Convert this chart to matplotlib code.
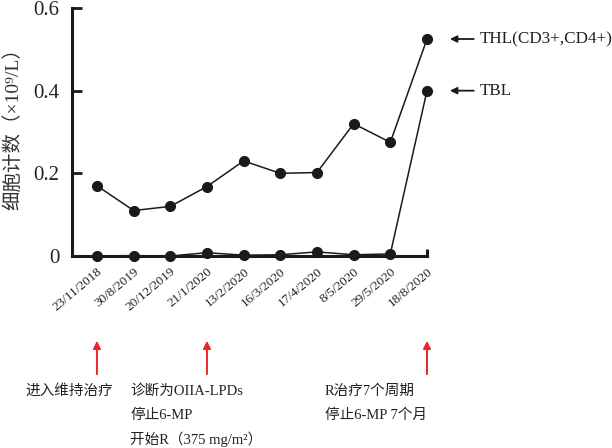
import matplotlib
matplotlib.use("Agg")
import matplotlib.pyplot as plt
from matplotlib.transforms import blended_transform_factory

# data
dates = ["23/11/2018", "30/8/2019", "20/12/2019", "21/1/2020", "13/2/2020",
         "16/3/2020", "17/4/2020", "8/5/2020", "29/5/2020", "18/8/2020"]
thl = [0.170, 0.110, 0.120, 0.168, 0.230, 0.200, 0.202, 0.320, 0.275, 0.525]
tbl = [0.000, 0.001, 0.000, 0.008, 0.002, 0.003, 0.010, 0.003, 0.005, 0.400]
yticks = [0, 0.2, 0.4, 0.6]
ytick_labels = ["0", "0.2", "0.4", "0.6"]

series_labels = ["THL(CD3+,CD4+)", "TBL"]
events = [(0, ["进入维持治疗"], 25),
          (3, ["诊断为OIIA-LPDs", "停止6-MP", "开始R（375 mg/m²）"], 130),
          (9, ["R治疗7个周期", "停止6-MP 7个月"], 325)]

W, H = 612, 448
fam = ["Liberation Serif", "Noto Sans CJK SC", "DejaVu Sans"]
plt.rcParams["font.family"] = fam

fig = plt.figure(figsize=(W / 100, H / 100), dpi=100)
ax = fig.add_axes([72 / W, 192 / H, 355 / W, 248 / H])

x = list(range(len(dates)))
ax.plot(x, thl, "-o", color="#1a1a1a", lw=1.1, ms=7, clip_on=False, zorder=3)
ax.plot(x, tbl, "-o", color="#1a1a1a", lw=1.1, ms=7, clip_on=False, zorder=3)

ax.set_xlim(-0.68, 9)
ax.set_ylim(0, 0.6)
for s in ["top", "right"]:
    ax.spines[s].set_visible(False)
ax.spines["left"].set_linewidth(2.2)
ax.spines["bottom"].set_linewidth(2.2)
ax.spines["left"].set_color("#1a1a1a")
ax.spines["bottom"].set_color("#1a1a1a")
# little end tick at right of x axis
ax.plot([9, 9], [0, 0.018], color="#1a1a1a", lw=2.2, clip_on=False, solid_capstyle="butt")

ax.set_yticks(yticks)
ax.set_yticklabels(ytick_labels, fontsize=15, family="Liberation Serif", color="#222222")
ax.tick_params(axis="y", direction="in", length=7, width=2, pad=9, color="#1a1a1a")
ax.set_xticks(x)
ax.set_xticklabels(dates, rotation=40, ha="right", rotation_mode="anchor",
                   fontsize=9.5, family="Liberation Serif", color="#222222")
ax.tick_params(axis="x", length=0, pad=7)

ax.set_ylabel("细胞计数（×10⁹/L）", fontsize=14, color="#333333")
ax.yaxis.set_label_coords(-0.14, 0.53)

# series labels with arrows on the right
for val, lab in zip([thl[-1], tbl[-1]], series_labels):
    ax.annotate("", xy=(9.55, val), xytext=(10.35, val),
                arrowprops=dict(arrowstyle="-|>", color="#1a1a1a", lw=1.3, mutation_scale=10),
                annotation_clip=False)
    ax.text(10.45, val, lab, fontsize=12.3, va="center", ha="left", color="#222222",
            family="Liberation Serif", clip_on=False)

# event arrows and notes below the axis
tr = blended_transform_factory(ax.transData, fig.transFigure)
for xi, lines, left in events:
    ax.annotate("", xy=(xi, (H - 338) / H), xycoords=tr,
                xytext=(xi, (H - 377) / H), textcoords=tr,
                arrowprops=dict(arrowstyle="-|>", color="#e8262b", lw=1.4, mutation_scale=11),
                annotation_clip=False)
    for k, line in enumerate(lines):
        fig.text(left / W, (H - 391 - 24 * k) / H, line, fontsize=10.5, va="center",
                 ha="left", color="#222222")

fig.savefig("out.png", dpi=100)
